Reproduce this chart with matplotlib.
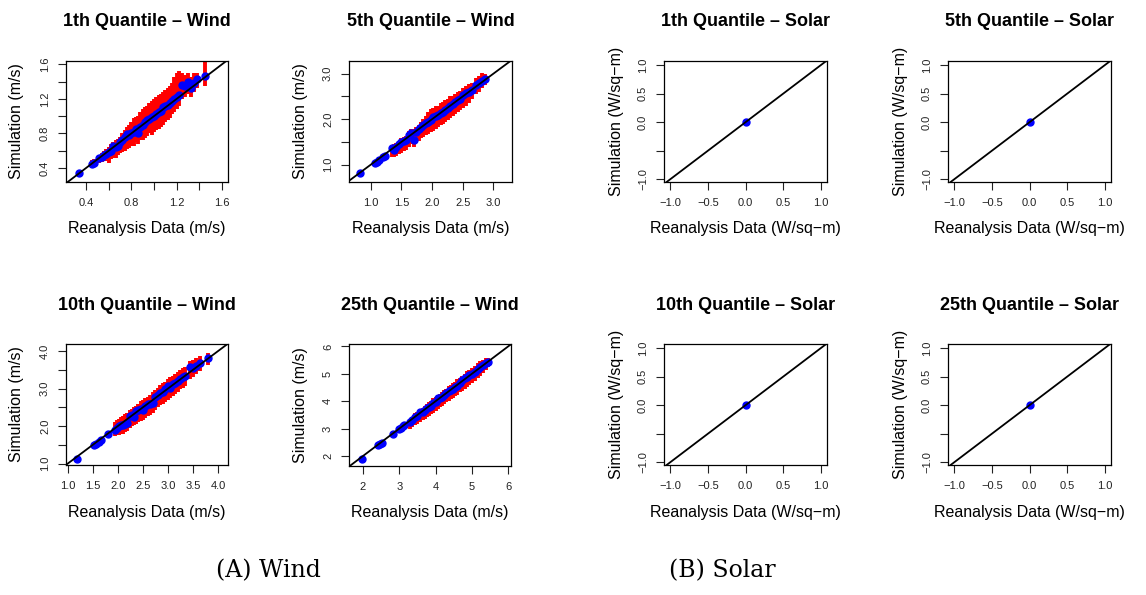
import matplotlib
matplotlib.use("Agg")
import matplotlib.pyplot as plt
import numpy as np

plt.rcParams["font.family"] = ["Liberation Sans", "DejaVu Sans"]

# ---- data: reanalysis x, mean simulation y, simulation range lo/hi ----
q1_x = [0.34, 0.45, 0.47, 0.51, 0.54, 0.56, 0.58, 0.60, 0.62, 0.64, 0.66, 0.68, 0.70, 0.72, 0.74, 0.76,
        0.78, 0.80, 0.82, 0.84, 0.86, 0.88, 0.90, 0.92, 0.94, 0.96, 0.98, 1.00, 1.02, 1.04, 1.06, 1.08,
        1.10, 1.12, 1.14, 1.16, 1.18, 1.20, 1.22, 1.25, 1.27, 1.30, 1.33, 1.35, 1.38, 1.45]
q1_y = [0.34, 0.45, 0.46, 0.51, 0.53, 0.55, 0.56, 0.59, 0.60, 0.65, 0.64, 0.66, 0.70, 0.72, 0.76, 0.79,
        0.78, 0.80, 0.82, 0.85, 0.81, 0.88, 0.90, 0.93, 0.95, 0.97, 0.99, 1.00, 1.03, 1.05, 1.06, 1.10,
        1.12, 1.13, 1.15, 1.17, 1.20, 1.22, 1.25, 1.36, 1.35, 1.40, 1.33, 1.38, 1.43, 1.46]
q1_lo = [0.30, 0.42, 0.41, 0.46, 0.47, 0.49, 0.48, 0.46, 0.50, 0.52, 0.51, 0.55, 0.57, 0.58, 0.60, 0.62,
         0.63, 0.65, 0.66, 0.70, 0.68, 0.72, 0.72, 0.75, 0.77, 0.80, 0.78, 0.82, 0.84, 0.85, 0.88, 0.90,
         0.93, 0.95, 0.98, 1.02, 1.05, 1.08, 1.12, 1.20, 1.22, 1.26, 1.22, 1.28, 1.32, 1.35]
q1_hi = [0.37, 0.49, 0.50, 0.55, 0.57, 0.60, 0.62, 0.64, 0.68, 0.70, 0.72, 0.73, 0.76, 0.80, 0.84, 0.88,
         0.90, 0.93, 0.98, 0.99, 1.00, 1.05, 1.08, 1.10, 1.12, 1.15, 1.18, 1.20, 1.22, 1.24, 1.26, 1.28,
         1.30, 1.32, 1.35, 1.38, 1.45, 1.50, 1.52, 1.50, 1.48, 1.50, 1.45, 1.50, 1.50, 1.70]

q5_x = [0.83, 1.07, 1.10, 1.14, 1.20, 1.23, 1.35, 1.38, 1.42, 1.46, 1.50, 1.54, 1.58, 1.63, 1.66, 1.70,
        1.74, 1.78, 1.82, 1.86, 1.90, 1.94, 1.98, 2.02, 2.06, 2.10, 2.14, 2.18, 2.22, 2.26, 2.30, 2.34,
        2.38, 2.42, 2.46, 2.50, 2.55, 2.60, 2.66, 2.72, 2.76, 2.82, 2.87]
q5_y = [0.81, 1.04, 1.07, 1.11, 1.18, 1.20, 1.36, 1.33, 1.40, 1.45, 1.50, 1.53, 1.55, 1.66, 1.69, 1.55,
        1.72, 1.78, 1.83, 1.87, 1.92, 1.95, 1.99, 2.04, 2.07, 2.10, 2.13, 2.16, 2.20, 2.25, 2.28, 2.33,
        2.38, 2.42, 2.44, 2.53, 2.58, 2.60, 2.64, 2.76, 2.80, 2.85, 2.88]
q5_lo = [0.76, 1.00, 1.03, 1.07, 1.13, 1.15, 1.18, 1.17, 1.19, 1.23, 1.26, 1.30, 1.33, 1.40, 1.45, 1.40,
         1.50, 1.53, 1.58, 1.61, 1.65, 1.67, 1.71, 1.75, 1.79, 1.83, 1.87, 1.90, 1.95, 1.99, 2.03, 2.07,
         2.11, 2.15, 2.20, 2.25, 2.30, 2.36, 2.44, 2.55, 2.60, 2.68, 2.75]
q5_hi = [0.84, 1.08, 1.11, 1.16, 1.22, 1.24, 1.42, 1.45, 1.48, 1.52, 1.58, 1.60, 1.63, 1.74, 1.78, 1.78,
         1.84, 1.88, 1.95, 2.00, 2.08, 2.15, 2.22, 2.25, 2.28, 2.30, 2.35, 2.38, 2.42, 2.45, 2.50, 2.52,
         2.56, 2.60, 2.62, 2.68, 2.72, 2.78, 2.80, 2.90, 2.95, 3.02, 3.00]

q10_x = [1.19, 1.52, 1.56, 1.62, 1.66, 1.80, 1.94, 1.98, 2.02, 2.06, 2.10, 2.14, 2.18, 2.24, 2.28, 2.32,
         2.36, 2.40, 2.46, 2.50, 2.55, 2.60, 2.65, 2.70, 2.75, 2.80, 2.85, 2.90, 2.95, 3.00, 3.05, 3.10,
         3.15, 3.20, 3.25, 3.30, 3.35, 3.44, 3.50, 3.56, 3.64, 3.80]
q10_y = [1.13, 1.50, 1.52, 1.58, 1.64, 1.80, 1.90, 1.96, 2.00, 2.02, 2.03, 2.05, 2.08, 2.28, 2.30, 2.25,
         2.40, 2.42, 2.45, 2.42, 2.55, 2.58, 2.60, 2.62, 2.78, 2.82, 2.88, 2.92, 3.00, 3.08, 3.02, 3.12,
         3.14, 3.20, 3.26, 3.30, 3.34, 3.58, 3.55, 3.60, 3.68, 3.81]
q10_lo = [1.08, 1.45, 1.46, 1.50, 1.56, 1.72, 1.74, 1.76, 1.77, 1.78, 1.80, 1.84, 1.86, 1.94, 2.00, 2.02,
          2.06, 2.10, 2.14, 2.16, 2.22, 2.26, 2.30, 2.36, 2.44, 2.50, 2.56, 2.60, 2.64, 2.70, 2.74, 2.80,
          2.86, 2.92, 2.98, 3.02, 3.08, 3.26, 3.32, 3.38, 3.46, 3.62]
q10_hi = [1.18, 1.55, 1.58, 1.64, 1.70, 1.86, 2.10, 2.16, 2.20, 2.24, 2.28, 2.32, 2.34, 2.42, 2.46, 2.50,
          2.54, 2.60, 2.66, 2.70, 2.74, 2.78, 2.84, 2.90, 2.96, 3.02, 3.09, 3.14, 3.19, 3.26, 3.30, 3.34,
          3.39, 3.44, 3.50, 3.54, 3.59, 3.74, 3.76, 3.82, 3.88, 3.94]

q25_x = [1.98, 2.42, 2.46, 2.52, 2.84, 2.98, 3.04, 3.10, 3.14, 3.30, 3.36, 3.44, 3.50, 3.58, 3.64, 3.70,
         3.76, 3.82, 3.88, 3.94, 4.00, 4.06, 4.12, 4.18, 4.24, 4.30, 4.36, 4.42, 4.48, 4.54, 4.60, 4.66,
         4.72, 4.80, 4.86, 4.92, 5.00, 5.08, 5.16, 5.22, 5.30, 5.38, 5.45]
q25_y = [1.90, 2.39, 2.42, 2.48, 2.82, 2.98, 3.02, 3.08, 3.12, 3.24, 3.30, 3.43, 3.46, 3.60, 3.62, 3.68,
         3.74, 3.78, 3.82, 3.92, 3.98, 4.10, 4.12, 4.15, 4.22, 4.30, 4.38, 4.40, 4.46, 4.52, 4.55, 4.68,
         4.78, 4.84, 4.88, 4.95, 5.00, 5.06, 5.18, 5.24, 5.32, 5.40, 5.45]
q25_lo = [1.85, 2.34, 2.36, 2.42, 2.70, 2.85, 2.88, 2.92, 2.95, 3.00, 3.05, 3.12, 3.16, 3.24, 3.30, 3.36,
          3.42, 3.46, 3.52, 3.58, 3.64, 3.72, 3.78, 3.84, 3.90, 3.96, 4.02, 4.07, 4.12, 4.20, 4.24, 4.32,
          4.38, 4.46, 4.52, 4.58, 4.66, 4.74, 4.84, 4.92, 5.02, 5.14, 5.24]
q25_hi = [1.95, 2.44, 2.48, 2.54, 2.90, 3.08, 3.14, 3.20, 3.24, 3.36, 3.44, 3.56, 3.60, 3.70, 3.76, 3.84,
          3.90, 3.96, 4.02, 4.10, 4.16, 4.22, 4.28, 4.34, 4.40, 4.46, 4.54, 4.60, 4.66, 4.72, 4.80, 4.86,
          4.92, 5.00, 5.10, 5.15, 5.22, 5.30, 5.40, 5.46, 5.52, 5.58, 5.58]

solar_x = [0.0]
solar_y = [0.0]
solar_lo = [0.0]
solar_hi = [0.0]

wind_titles = ["1th Quantile \u2013 Wind", "5th Quantile \u2013 Wind",
               "10th Quantile \u2013 Wind", "25th Quantile \u2013 Wind"]
solar_titles = ["1th Quantile \u2013 Solar", "5th Quantile \u2013 Solar",
                "10th Quantile \u2013 Solar", "25th Quantile \u2013 Solar"]
wind_sets = [(q1_x, q1_y, q1_lo, q1_hi), (q5_x, q5_y, q5_lo, q5_hi),
             (q10_x, q10_y, q10_lo, q10_hi), (q25_x, q25_y, q25_lo, q25_hi)]

# ticks (R drops labels that would collide -> blank strings)
wind_xticks = [[0.4, 0.6, 0.8, 1.0, 1.2, 1.4, 1.6], [1.0, 1.5, 2.0, 2.5, 3.0],
               [1.0, 1.5, 2.0, 2.5, 3.0, 3.5, 4.0], [2, 3, 4, 5, 6]]
wind_xlabels = [["0.4", "", "0.8", "", "1.2", "", "1.6"], ["1.0", "1.5", "2.0", "2.5", "3.0"],
                ["1.0", "1.5", "2.0", "2.5", "3.0", "3.5", "4.0"], ["2", "3", "4", "5", "6"]]
wind_yticks = wind_xticks
wind_ylabels = [["0.4", "", "0.8", "", "1.2", "", "1.6"], ["1.0", "", "2.0", "", "3.0"],
                ["1.0", "", "2.0", "", "3.0", "", "4.0"], ["2", "3", "4", "5", "6"]]
solar_ticks = [-1.0, -0.5, 0.0, 0.5, 1.0]
solar_xlabels = ["\u22121.0", "\u22120.5", "0.0", "0.5", "1.0"]
solar_ylabels = ["\u22121.0", "", "0.0", "0.5", "1.0"]

# ---- layout (pixel boxes: left, top, right, bottom) ----
W, H = 1146, 595
wind_boxes = [(66, 61, 228, 182), (349, 61, 512, 182), (66, 344, 228, 465), (349, 344, 511, 466)]
solar_boxes = [(664, 61, 827, 182), (948, 61, 1111, 182), (664, 344, 827, 465), (948, 344, 1111, 465)]
wind_lims = [((0.223, 1.653), (0.238, 1.638)), ((0.646, 3.305), (0.62, 3.28)),
             ((0.968, 4.20), (0.965, 4.19)), ((1.613, 6.08), (1.633, 6.09))]
solar_lims = ((-1.085, 1.08), (-1.05, 1.07))

fig = plt.figure(figsize=(W / 100, H / 100), dpi=100)


def add_box(b):
    l, t, r, btm = b
    return fig.add_axes([l / W, 1 - btm / H, (r - l) / W, (btm - t) / H])


def style(ax, title, xlab, ylab, xt, xtl, yt, ytl, ylab_off):
    h = ax.get_position().height * H
    w = ax.get_position().width * W
    ax.set_xticks(xt)
    ax.set_xticklabels(xtl)
    ax.set_yticks(yt)
    ax.set_yticklabels(ytl, rotation=90, va="center")
    ax.tick_params(direction="out", length=5.5, width=0.8, pad=6, labelsize=8, colors="#222222")
    for sp in ax.spines.values():
        sp.set_linewidth(0.9)
    ax.set_title(title, fontsize=13, fontweight="bold", y=1 + 39 / h, pad=0, va="center")
    ax.set_xlabel(xlab, fontsize=11.5)
    ax.set_ylabel(ylab, fontsize=11.5)
    ax.xaxis.label.set_va("center")
    ax.yaxis.label.set_va("center")
    ax.xaxis.set_label_coords(0.5, -47 / h)
    ax.yaxis.set_label_coords(-ylab_off / w, 0.5)


for i in range(4):
    ax = add_box(wind_boxes[i])
    x, y, lo, hi = wind_sets[i]
    ax.vlines(x, lo, hi, color="red", lw=2.8, zorder=2)
    ax.plot(x, y, "o", color="blue", ms=5, zorder=3)
    ax.axline((0, 0), slope=1, color="black", lw=1.3, zorder=4)
    ax.set_xlim(*wind_lims[i][0])
    ax.set_ylim(*wind_lims[i][1])
    style(ax, wind_titles[i], "Reanalysis Data (m/s)", "Simulation (m/s)",
          wind_xticks[i], wind_xlabels[i], wind_yticks[i], wind_ylabels[i], 49)

for i in range(4):
    ax = add_box(solar_boxes[i])
    ax.vlines(solar_x, solar_lo, solar_hi, color="red", lw=2.8, zorder=2)
    ax.plot(solar_x, solar_y, "o", color="blue", ms=5, zorder=3)
    ax.axline((0, 0), slope=1, color="black", lw=1.3, zorder=4)
    ax.set_xlim(*solar_lims[0])
    ax.set_ylim(*solar_lims[1])
    style(ax, solar_titles[i], "Reanalysis Data (W/sq\u2212m)", "Simulation (W/sq\u2212m)",
          solar_ticks, solar_xlabels, solar_ticks, solar_ylabels, 48)

fig.text(268 / W, 1 - 571 / H, "(A) Wind", family="DejaVu Serif", fontsize=17, ha="center", va="center")
fig.text(722 / W, 1 - 571 / H, "(B) Solar", family="DejaVu Serif", fontsize=17, ha="center", va="center")

fig.savefig("out.png", dpi=100)
